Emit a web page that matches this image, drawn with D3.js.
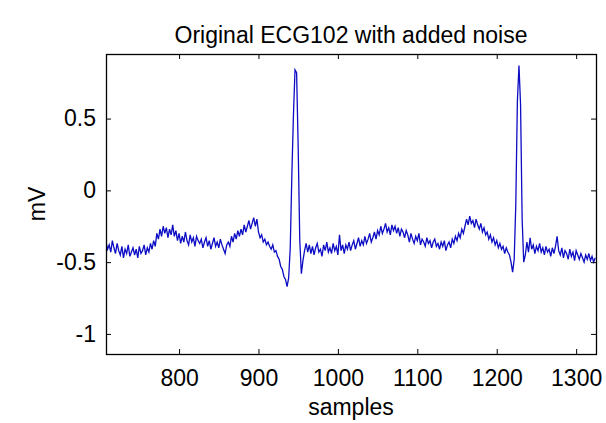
<!DOCTYPE html>
<html>
<head>
<meta charset="utf-8">
<script src="https://cdn.jsdelivr.net/npm/d3@7"></script>
<style>
  body { margin: 0; background: #fff; }
  svg text { font-family: "Liberation Sans", Arial, sans-serif; fill: #000; }
</style>
</head>
<body>
<svg id="chart" width="606" height="423"></svg>
<script>
// ECG trace, one value every 2 samples starting at sample 708
const sampleStart = 708;
const sampleStep = 2;
const mv = [
  -0.36, -0.41, -0.38, -0.43, -0.35, -0.40, -0.44, -0.37, -0.42,
  -0.45, -0.39, -0.47, -0.41, -0.44, -0.38, -0.46, -0.43, -0.40, -0.45,
  -0.41, -0.47, -0.39, -0.44, -0.42, -0.38, -0.45, -0.40, -0.43, -0.37, -0.41,
  -0.35, -0.39, -0.30, -0.34, -0.27,
  -0.32, -0.25, -0.30, -0.26, -0.33, -0.27, -0.31, -0.24, -0.32, -0.28,
  -0.35, -0.30, -0.37, -0.32, -0.36, -0.29, -0.35, -0.38, -0.31, -0.36, -0.33, -0.39, -0.32, -0.35, -0.37,
  -0.34, -0.40, -0.36, -0.33, -0.39, -0.35, -0.41, -0.37, -0.33, -0.39, -0.36, -0.40, -0.34, -0.38, -0.41, -0.44, -0.38,
  -0.36, -0.39, -0.32, -0.36, -0.30, -0.34, -0.28, -0.32, -0.27, -0.31, -0.24, -0.29, -0.25, -0.21, -0.27, -0.23, -0.19, -0.25, -0.20,
  -0.29, -0.33, -0.31, -0.36, -0.34, -0.38, -0.36, -0.39, -0.41, -0.38, -0.43, -0.42, -0.46, -0.48,
  -0.53, -0.55, -0.60, -0.62, -0.67, -0.61, -0.40, 0.10, 0.52, 0.84,
  0.82, 0.30, -0.35, -0.58, -0.49, -0.42, -0.37, -0.43, -0.38, -0.44,
  -0.39, -0.45, -0.40, -0.37, -0.43, -0.41, -0.46, -0.38, -0.42, -0.36,
  -0.43, -0.40, -0.44, -0.37, -0.42, -0.39, -0.45, -0.31, -0.42, -0.38,
  -0.44, -0.38, -0.41, -0.36, -0.42, -0.38, -0.35, -0.41, -0.37, -0.33,
  -0.39, -0.35, -0.38, -0.32, -0.37, -0.34, -0.30, -0.36, -0.33, -0.29,
  -0.34, -0.28, -0.31, -0.25, -0.30, -0.27, -0.23, -0.29, -0.26, -0.31,
  -0.24, -0.28, -0.25, -0.30, -0.26, -0.32, -0.27, -0.29, -0.33, -0.28,
  -0.31, -0.36, -0.30, -0.34, -0.37, -0.32, -0.35, -0.30, -0.38, -0.34,
  -0.36, -0.39, -0.33, -0.37, -0.35, -0.40, -0.36, -0.34, -0.39, -0.37,
  -0.41, -0.36, -0.39, -0.35, -0.42, -0.38, -0.36, -0.40, -0.34, -0.37, -0.32, -0.35, -0.30, -0.33, -0.27, -0.30,
  -0.25, -0.20, -0.24, -0.18, -0.23, -0.21, -0.26, -0.20, -0.24, -0.27, -0.23, -0.29, -0.26, -0.31,
  -0.29, -0.34, -0.31, -0.36, -0.33, -0.38, -0.35, -0.40, -0.37, -0.41, -0.39, -0.44, -0.40, -0.43,
  -0.45, -0.50, -0.57, -0.48, -0.10, 0.62, 0.87, 0.60, -0.20, -0.50,
  -0.45, -0.36, -0.43, -0.33, -0.41, -0.38, -0.44, -0.39, -0.42, -0.37, -0.43, -0.40, -0.45, -0.39, -0.43, -0.41,
  -0.46, -0.40, -0.44, -0.39, -0.32, -0.42, -0.45, -0.40, -0.47, -0.42,
  -0.44, -0.48, -0.41, -0.46, -0.43, -0.49, -0.42, -0.45, -0.48, -0.44,
  -0.47, -0.50, -0.45, -0.48, -0.44, -0.49, -0.46, -0.50, -0.47
];

const xTicks = [800, 900, 1000, 1100, 1200, 1300];
const yTicks = [-1, -0.5, 0, 0.5];
const yTickLabels = ["-1", "-0.5", "0", "0.5"];

const titleText = "Original ECG102 with added noise";
const xLabel = "samples";
const yLabel = "mV";

const margin = { top: 54, right: 10, bottom: 69, left: 106 };
const width = 606, height = 423;
const fontSize = 23;

const svg = d3.select('#chart');

const x = d3.scaleLinear()
    .domain([708, 1325])
    .range([margin.left, width - margin.right]);

const y = d3.scaleLinear()
    .domain([-1.14, 0.95])
    .range([height - margin.bottom, margin.top]);

const points = mv.map((v, i) => ({ s: sampleStart + i * sampleStep, v: v }));

// clip the trace to the axes box
svg.append('clipPath').attr('id', 'clip')
  .append('rect')
    .attr('x', margin.left).attr('y', margin.top)
    .attr('width', width - margin.left - margin.right)
    .attr('height', height - margin.top - margin.bottom);

const line = d3.line()
    .x(d => x(d.s))
    .y(d => y(d.v));

svg.append('path')
    .datum(points)
    .attr('clip-path', 'url(#clip)')
    .attr('fill', 'none')
    .attr('stroke', '#0c0cc4')
    .attr('stroke-width', 1.3)
    .attr('stroke-linejoin', 'miter')
    .attr('d', line);

// axes, ticks pointing inward on all four sides like matlab
const tickLen = 5;
const plotH = height - margin.top - margin.bottom;
const plotW = width - margin.left - margin.right;

const xBottom = svg.append('g')
    .attr('transform', `translate(0,${height - margin.bottom})`)
    .call(d3.axisBottom(x).tickValues(xTicks).tickSizeInner(-tickLen).tickSizeOuter(0).tickPadding(16)
      .tickFormat(d3.format('d')));
const xTop = svg.append('g')
    .attr('transform', `translate(0,${margin.top})`)
    .call(d3.axisTop(x).tickValues(xTicks).tickSizeInner(-tickLen).tickSizeOuter(0).tickFormat(''));
const yLeft = svg.append('g')
    .attr('transform', `translate(${margin.left},0)`)
    .call(d3.axisLeft(y).tickValues(yTicks).tickSizeInner(-tickLen).tickSizeOuter(0).tickPadding(10)
      .tickFormat((d, i) => yTickLabels[i]));
const yRight = svg.append('g')
    .attr('transform', `translate(${width - margin.right},0)`)
    .call(d3.axisRight(y).tickValues(yTicks).tickSizeInner(-tickLen).tickSizeOuter(0).tickFormat(''));

[xBottom, xTop, yLeft, yRight].forEach(g => {
  g.select('.domain').remove();
  g.selectAll('line').attr('stroke', '#000');
  g.selectAll('text').attr('font-size', fontSize).attr('font-family', '"Liberation Sans", Arial, sans-serif');
});

// box
svg.append('rect')
    .attr('x', margin.left + 0.5).attr('y', margin.top + 0.5)
    .attr('width', plotW).attr('height', plotH)
    .attr('fill', 'none')
    .attr('stroke', '#000')
    .attr('stroke-width', 1.3);

svg.append('text')
    .attr('x', margin.left + plotW / 2)
    .attr('y', 43)
    .attr('text-anchor', 'middle')
    .attr('font-size', fontSize)
    .text(titleText);

svg.append('text')
    .attr('x', margin.left + plotW / 2)
    .attr('y', 415)
    .attr('text-anchor', 'middle')
    .attr('font-size', fontSize)
    .text(xLabel);

svg.append('text')
    .attr('transform', `translate(45,${margin.top + plotH / 2}) rotate(-90)`)
    .attr('text-anchor', 'middle')
    .attr('font-size', fontSize)
    .text(yLabel);
</script>
</body>
</html>
